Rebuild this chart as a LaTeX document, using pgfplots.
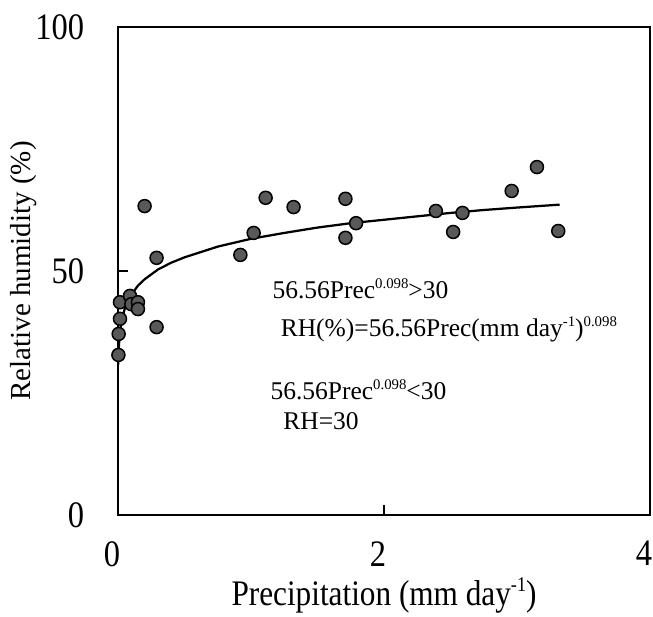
\documentclass[border=0pt]{standalone}
\usepackage{graphicx}
\usepackage{pgfplots}
\pgfplotsset{compat=1.18}
\usepackage{fontspec}
\setmainfont{Liberation Serif}
\newcommand\sups[1]{\raisebox{0.85ex}{\scalebox{0.58}{#1}}}
\newcommand\tall[1]{\scalebox{1}[1.15]{#1}}
\begin{document}
\begin{tikzpicture}
\begin{axis}[
 scale only axis, width=212.8pt, height=195.2pt,
 xmin=0, xmax=4, ymin=0, ymax=100,
 xtick={0,2,4}, ytick={0,50,100},
 tick align=inside, xtick pos=left, ytick pos=left,
 major tick length=4pt,
 axis line style={line width=1pt},
 every tick/.style={black, line width=0.8pt},
 /pgf/number format/assume math mode=true,
 tick label style={font=\fontsize{13}{15}\selectfont},
 xticklabel={\tall{\pgfmathprintnumber{\tick}}},
 yticklabel={\tall{\pgfmathprintnumber{\tick}}},
 xticklabel style={yshift=-7pt, xshift=-2.4pt},
 yticklabel style={xshift=-10pt},
 label style={font=\fontsize{12.5}{15}\selectfont},
 xlabel={\tall{Precipitation (mm day\sups{-1})}},
 ylabel={\fontsize{11.6}{14}\selectfont Relative humidity (\%)},
 xlabel style={at={(axis description cs:0.5,-0.164)}, anchor=center},
 ylabel style={at={(axis description cs:-0.178,0.5)}, anchor=center},
 clip=false,
]
\addplot[black, line width=0.9pt] coordinates {
(0.002,30.8)(0.003,32.0)(0.005,33.7)(0.01,36.0)(0.02,38.6)(0.03,40.1)(0.05,42.2)(0.075,43.9)(0.1,45.1)(0.15,47.0)(0.2,48.3)(0.3,50.3)(0.4,51.7)(0.5,52.8)(0.75,55.0)(1,56.6)(1.25,57.8)(1.5,58.9)(1.75,59.8)(2,60.5)(2.25,61.2)(2.5,61.9)(2.75,62.5)(3,63.0)(3.32,63.6)
};
\addplot[only marks, mark=*, mark size=2.6pt, mark options={fill=black!65, draw=black, line width=0.6pt}] coordinates {
(0.20,63.3)(0.29,52.7)(1.11,65.0)(1.32,63.1)(1.71,64.8)(1.02,57.8)(0.92,53.3)(1.71,56.8)(0.29,38.5)(1.79,59.8)(2.39,62.3)(2.59,61.9)(2.52,58.0)(2.96,66.4)(3.31,58.2)(3.15,71.3)
(0.015,43.6)(0.09,44.9)(0.10,43.2)(0.15,43.6)(0.15,42.2)(0.015,40.2)(0.005,37.1)(0.003,32.8)
};
\node[anchor=base west, inner sep=0pt, font=\fontsize{10.2}{12}\selectfont] at (axis cs:1.158,44.3) {56.56Prec\sups{0.098}>30};
\node[anchor=base west, inner sep=0pt, font=\fontsize{10.2}{12}\selectfont] at (axis cs:1.22,36.5) {RH(\%)=56.56Prec(mm day\sups{-1})\sups{0.098}};
\node[anchor=base west, inner sep=0pt, font=\fontsize{10.2}{12}\selectfont] at (axis cs:1.143,23.6) {56.56Prec\sups{0.098}<30};
\node[anchor=base west, inner sep=0pt, font=\fontsize{10.2}{12}\selectfont] at (axis cs:1.24,17.6) {RH=30};
\end{axis}
\pgfresetboundingbox
\path ([xshift=-47.2pt,yshift=-40.4pt]current axis.south west) rectangle ([xshift=1.2pt,yshift=10.8pt]current axis.north east);
\end{tikzpicture}
\end{document}
